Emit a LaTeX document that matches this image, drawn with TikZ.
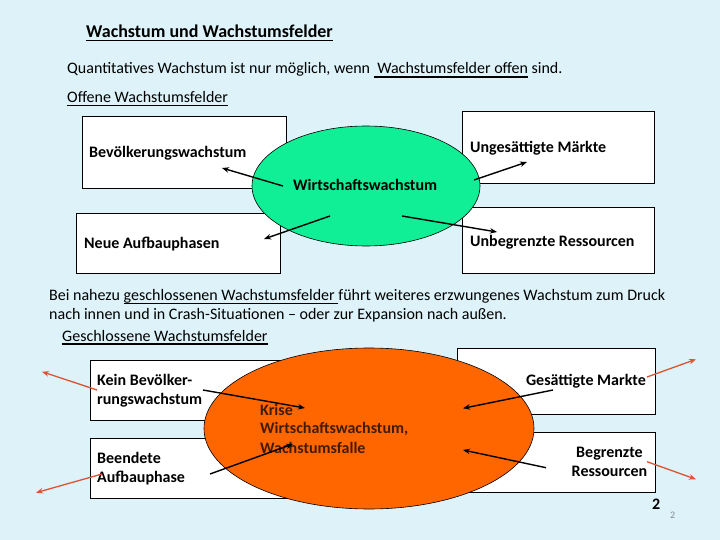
\documentclass[tikz,border=0pt]{standalone}
\usepackage{fontspec}
\setmainfont{Carlito}
\newcommand{\myul}[1]{\setbox0\hbox{#1}\rlap{\rule[-3.6pt]{\wd0}{1.2pt}}\box0\relax}
\usetikzlibrary{shapes.geometric,arrows.meta}
\definecolor{bg}{RGB}{221,243,249}
\definecolor{mint}{RGB}{16,238,150}
\definecolor{orng}{RGB}{255,102,0}
\definecolor{redarr}{RGB}{222,82,48}
\definecolor{brn}{RGB}{66,28,0}
\definecolor{pgray}{RGB}{130,140,150}
\tikzset{
  field/.style={draw=black, fill=white, line width=0.9pt, inner sep=0pt, anchor=north west},
  lbl/.style={font=\bfseries\fontsize{16}{19}\selectfont, inner sep=0pt, anchor=base west},
  txt/.style={font=\fontsize{16}{19}\selectfont, inner sep=0pt, anchor=base west},
  arr/.style={-{Stealth[length=7pt,width=5.5pt]}, line width=1.4pt, draw=black},
  rarr/.style={arr, draw=redarr, line width=1.3pt},
}
\begin{document}
\begin{tikzpicture}[x=1pt,y=-1pt]
\fill[bg] (0,0) rectangle (720,540);
\useasboundingbox (0,0) rectangle (720,540);

% headings
\node[txt, font=\bfseries\fontsize{18}{21}\selectfont] (title) at (86,37.5) {\myul{Wachstum und Wachstumsfelder}};
\node[txt] (intro) at (67,74) {Quantitatives Wachstum ist nur möglich, wenn \myul{ Wachstumsfelder offen} sind.};
\node[txt] (offen) at (67,102.5) {\myul{Offene Wachstumsfelder}};

% upper fields
\node[field, minimum width=204pt, minimum height=72pt] (b1) at (82,116) {};
\node[field, minimum width=192pt, minimum height=72pt] (b2) at (462,111) {};
\node[field, minimum width=204pt, minimum height=60pt] (b3) at (76,213) {};
\node[field, minimum width=192pt, minimum height=66pt] (b4) at (462,207) {};
\node[ellipse, draw=black, line width=0.6pt, fill=mint, minimum width=228pt, minimum height=120pt, inner sep=0pt] (e1) at (366,186) {};
\node[lbl] (t1) at (89,157.5) {Bevölkerungswachstum};
\node[lbl] (t2) at (470,153) {Ungesättigte Märkte};
\node[lbl] (t0) at (293,190.5) {Wirtschaftswachstum};
\node[lbl] (t3) at (84,248.5) {Neue Aufbauphasen};
\node[lbl] (t4) at (470,246) {Unbegrenzte Ressourcen};

\coordinate (a1s) at (283,186); \coordinate (a1e) at (222,168);
\coordinate (a2s) at (330,216); \coordinate (a2e) at (264,239);
\coordinate (a3s) at (474,180); \coordinate (a3e) at (527,162);
\coordinate (a4s) at (402,216); \coordinate (a4e) at (497,232);
\draw[arr] (a1s) -- (a1e);
\draw[arr] (a2s) -- (a2e);
\draw[arr] (a3s) -- (a3e);
\draw[arr] (a4s) -- (a4e);

% paragraph
\node[txt] (p1) at (49,300.7) {Bei nahezu \myul{geschlossenen Wachstumsfelder }führt weiteres erzwungenes Wachstum zum Druck};
\node[txt] (p2) at (49,319.5) {nach innen und in Crash-Situationen -- oder zur Expansion nach außen.};
\node[txt] (geschl) at (62,341) {\myul{Geschlossene Wachstumsfelder}};

% lower fields
\node[field, minimum width=210pt, minimum height=60pt] (b5) at (90,360) {};
\node[field, minimum width=210pt, minimum height=60pt] (b6) at (90,438) {};
\node[field, minimum width=198pt, minimum height=66pt] (b7) at (457,348) {};
\node[field, minimum width=198pt, minimum height=60pt] (b8) at (457,432) {};
\node[ellipse, draw=black, line width=0.6pt, fill=orng, minimum width=330pt, minimum height=161pt, inner sep=0pt] (e2) at (369,428.5) {};

\node[lbl] (t5a) at (97,385.7) {Kein Bevölker-};
\node[lbl] (t5b) at (97,404) {rungswachstum};
\node[lbl] (t6a) at (97,463.3) {Beendete};
\node[lbl] (t6b) at (97,482.3) {Aufbauphase};
\node[lbl, anchor=base east] (t7) at (646,385.7) {Gesättigte Markte};
\node[lbl, anchor=base] (t8a) at (609.5,457.7) {Begrenzte};
\node[lbl, anchor=base] (t8b) at (609.5,476.7) {Ressourcen};
\node[lbl, text=brn] (k1) at (260,415) {Krise};
\node[lbl, text=brn] (k2) at (260,433.5) {Wirtschaftswachstum,};
\node[lbl, text=brn] (k3) at (260,453) {Wachstumsfalle};

\coordinate (c1s) at (203,390); \coordinate (c1e) at (305,408);
\coordinate (c2s) at (210,474); \coordinate (c2e) at (293,444);
\coordinate (c3s) at (553,390); \coordinate (c3e) at (463,408.3);
\coordinate (c4s) at (546,467.7); \coordinate (c4e) at (463,450);
\draw[arr] (c1s) -- (c1e);
\draw[arr] (c2s) -- (c2e);
\draw[arr] (c3s) -- (c3e);
\draw[arr] (c4s) -- (c4e);

\coordinate (r1s) at (97,390); \coordinate (r1e) at (42,371.7);
\coordinate (r2s) at (102,474); \coordinate (r2e) at (36,492.7);
\coordinate (r3s) at (647,377); \coordinate (r3e) at (696,359.3);
\coordinate (r4s) at (647,461.7); \coordinate (r4e) at (696,479.3);
\draw[rarr] (r1s) -- (r1e);
\draw[rarr] (r2s) -- (r2e);
\draw[rarr] (r3s) -- (r3e);
\draw[rarr] (r4s) -- (r4e);

% page numbers
\node[lbl] (pg1) at (652,509) {2};
\node[txt, font=\fontsize{10}{12}\selectfont, text=pgray] (pg2) at (670,518) {2};
\end{tikzpicture}
\end{document}
